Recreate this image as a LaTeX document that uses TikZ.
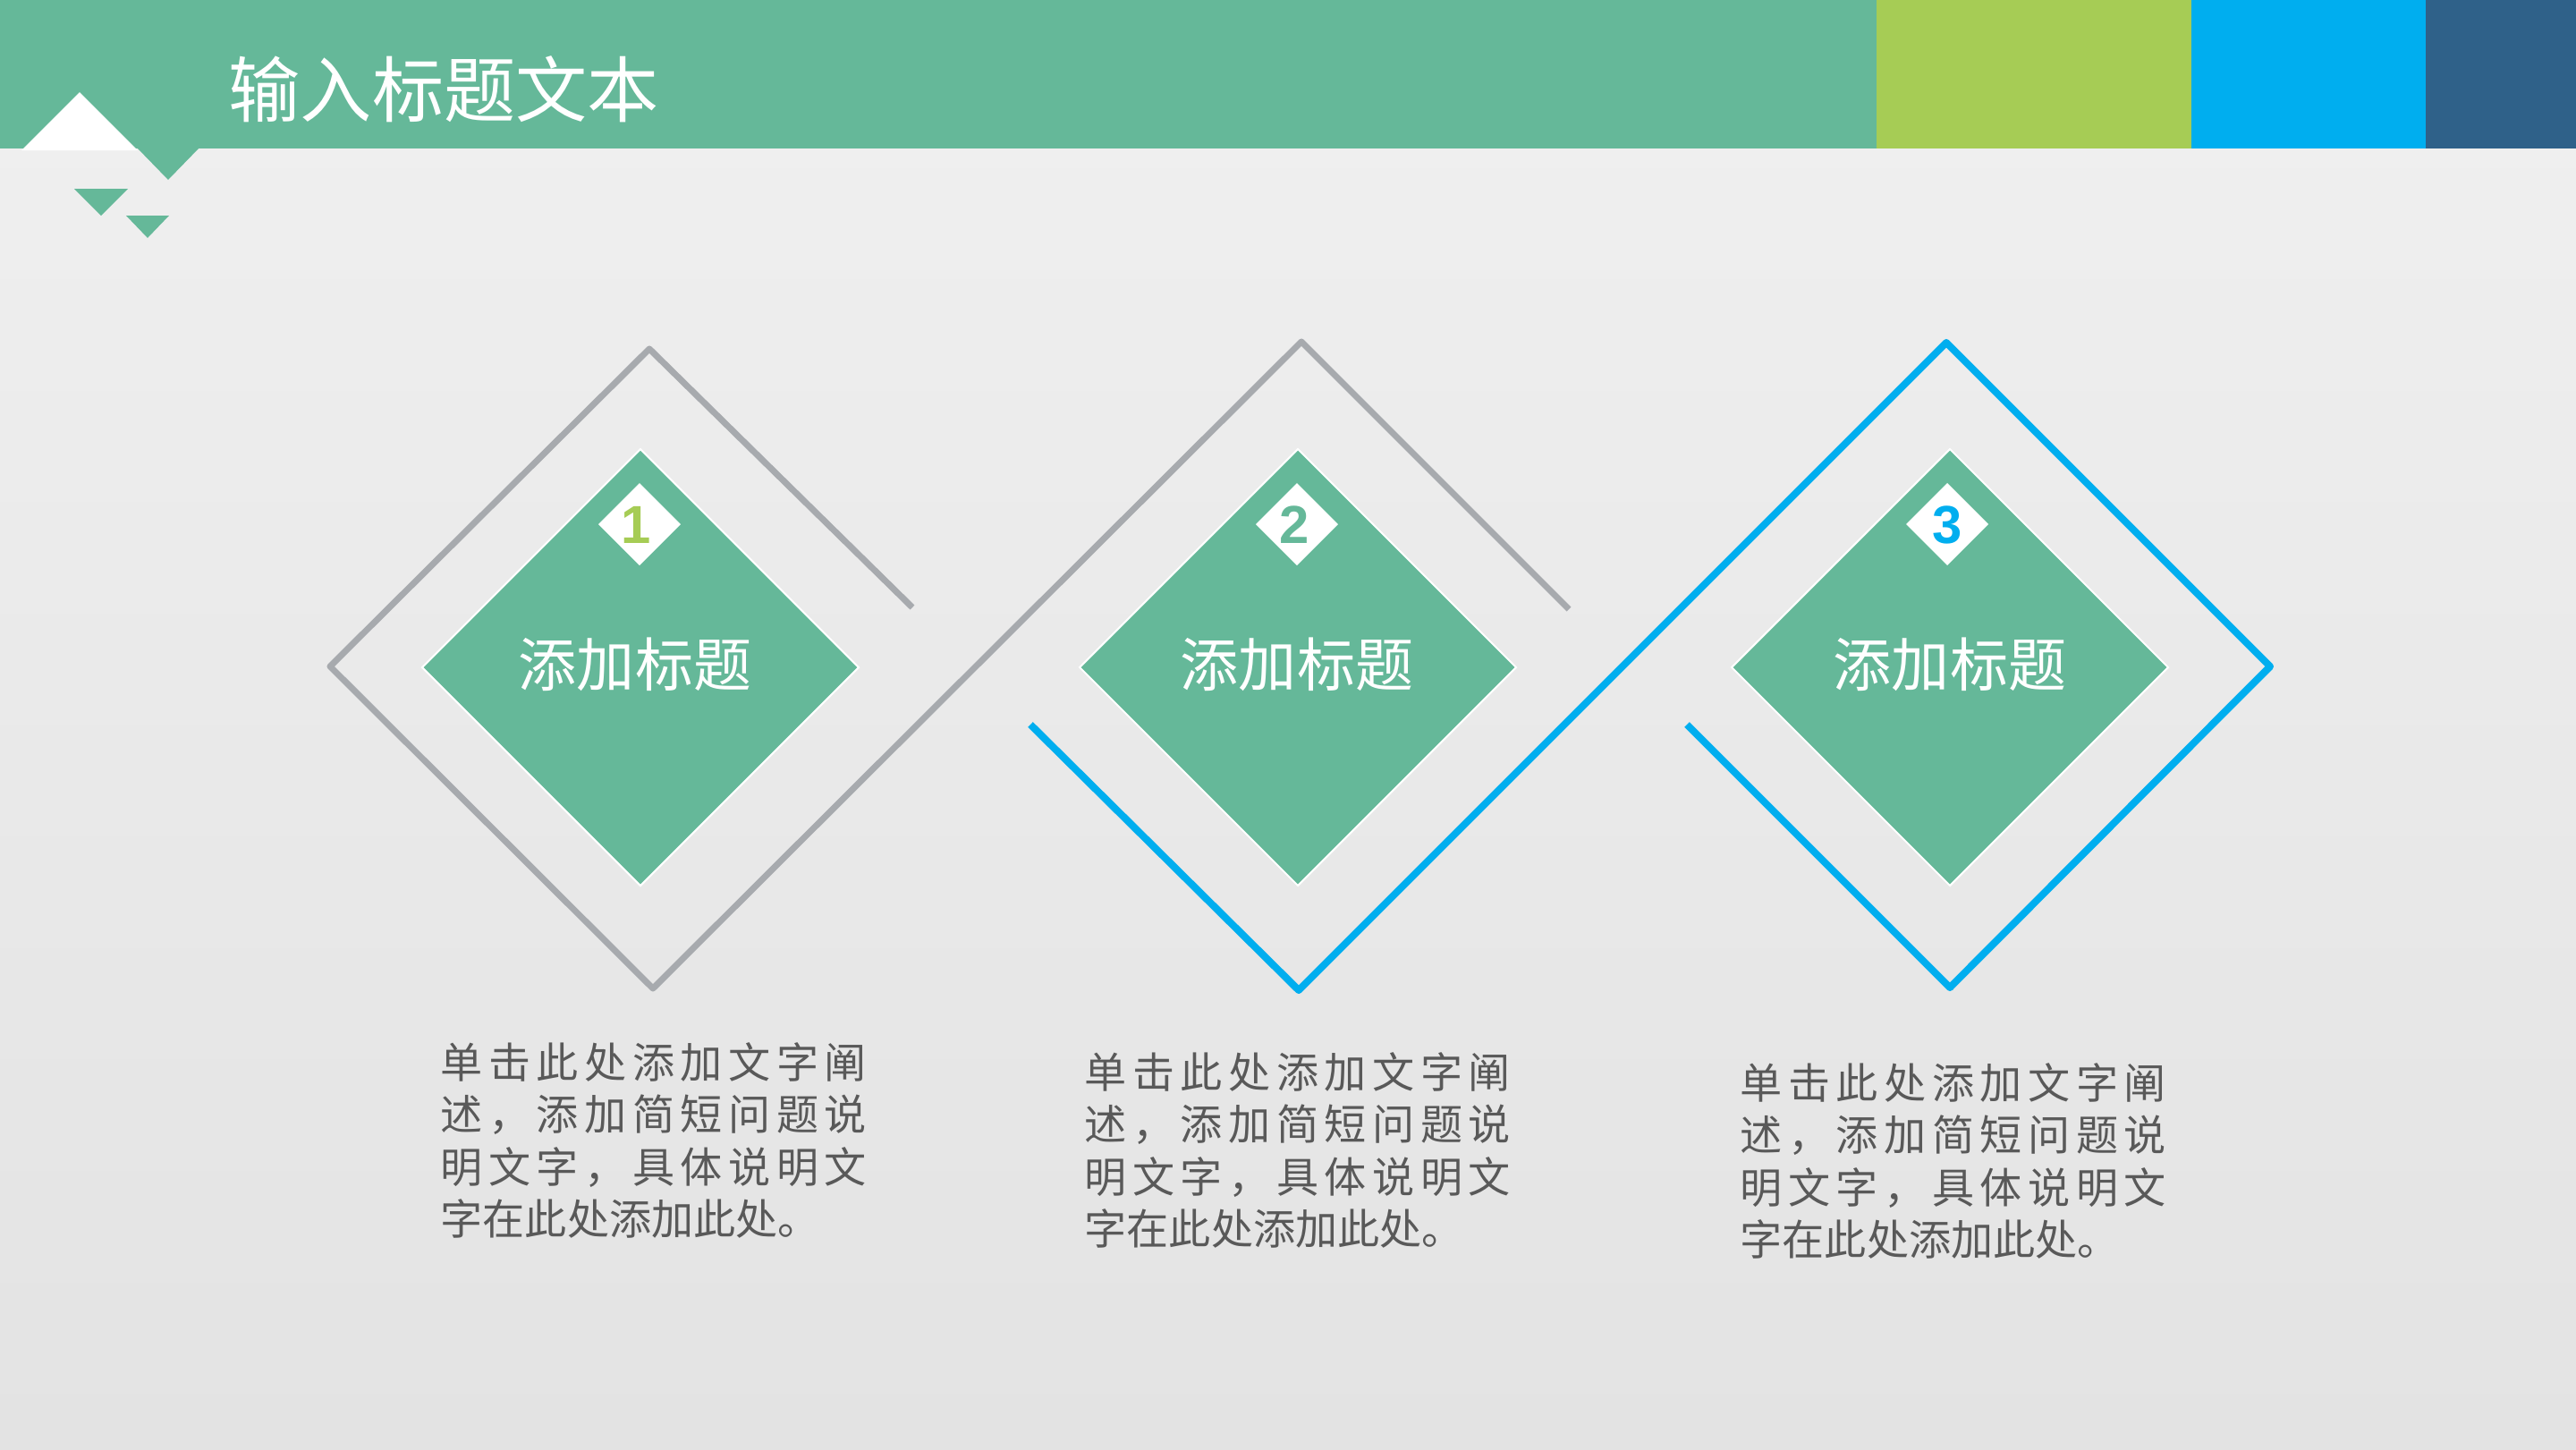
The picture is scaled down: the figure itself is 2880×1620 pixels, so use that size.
\documentclass[tikz,border=0pt]{standalone}
\usepackage{fontspec}
\newfontfamily\cjk{Noto Sans CJK SC}
\newfontfamily\numfont{Liberation Sans}
\definecolor{hdrgreen}{HTML}{65B899}
\definecolor{limegreen}{HTML}{A6CC55}
\definecolor{skyblue}{HTML}{00AEEF}
\definecolor{darkblue}{HTML}{2F6189}
\definecolor{linegray}{HTML}{A7AAAE}
\definecolor{bodygray}{HTML}{595959}
\definecolor{bgtop}{HTML}{F0F0F0}
\definecolor{bgbot}{HTML}{E3E3E3}
\tikzset{
  grayline/.style={draw=linegray, line width=2pt, line join=round},
  blueline/.style={draw=skyblue, line width=2.3pt, line join=round},
  bigdiamond/.style={fill=hdrgreen, draw=white, line width=0.6pt},
  smalldiamond/.style={fill=white},
  headtitle/.style={text=white, inner sep=0, font=\cjk\fontsize{22.8}{27}\selectfont},
  boxtitle/.style={text=white, inner sep=0, font=\cjk\fontsize{18.5}{22}\selectfont},
  numlabel/.style={inner sep=0, font=\numfont\bfseries\fontsize{17}{20}\selectfont},
  bodytext/.style={text=bodygray, inner sep=0, anchor=base west, font=\cjk\fontsize{13.4}{16.64}\selectfont}
}
\newcommand\spreadline[1]{\makebox[4.76cm][s]{#1}}
\begin{document}
\begin{tikzpicture}[x=0.01cm, y=-0.01cm]
\useasboundingbox (0,0) rectangle (2880,1620);
% background
\shade[top color=bgtop, bottom color=bgbot] (0,0) rectangle (2880,1620);
% header band
\fill[hdrgreen] (0,0) rectangle (2098,166);
\fill[limegreen] (2098,0) rectangle (2450,166);
\fill[skyblue] (2450,0) rectangle (2712,166);
\fill[darkblue] (2712,0) rectangle (2880,166);
% decorative triangles
\fill[white] (24,168) -- (89,103) -- (154,168) -- cycle;
\fill[hdrgreen] (153,165) -- (188,201) -- (223,165) -- cycle;
\fill[hdrgreen] (83,211) -- (143,211) -- (113,241) -- cycle;
\fill[hdrgreen] (141,241) -- (189,241) -- (165,266) -- cycle;
\node[headtitle, anchor=base west] (title) at (255,130) {输入标题文本};
% outline zigzags
\coordinate (g1) at (1020,679);
\coordinate (g2) at (726,390);
\coordinate (g3) at (369,745);
\coordinate (g4) at (730,1105);
\coordinate (g5) at (1455,382);
\coordinate (g6) at (1754,681);
\draw[grayline] (g1) -- (g2) -- (g3) -- (g4) -- (g5) -- (g6);
\coordinate (b1) at (1152,810);
\coordinate (b2) at (1452,1107);
\coordinate (b3) at (2176,383);
\coordinate (b4) at (2538,745);
\coordinate (b5) at (2180,1104);
\coordinate (b6) at (1886,810);
\draw[blueline] (b1) -- (b2) -- (b3) -- (b4) -- (b5) -- (b6);
% green diamonds
\foreach \cx in {716,1451,2180}{
  \path[bigdiamond] (\cx,502) -- (\cx+244,746) -- (\cx,990) -- (\cx-244,746) -- cycle;
}
% small white diamonds
\foreach \cx in {715,1450,2177}{
  \fill[smalldiamond] (\cx,540) -- (\cx+46,586) -- (\cx,632) -- (\cx-46,586) -- cycle;
}
\node[numlabel, text=limegreen, anchor=base] (n1) at (711,607) {1};
\node[numlabel, text=hdrgreen, anchor=base] (n2) at (1447,607) {2};
\node[numlabel, text=skyblue, anchor=base] (n3) at (2177,607) {3};
% titles in diamonds
\node[boxtitle, anchor=base] (h1) at (710,767) {添加标题};
\node[boxtitle, anchor=base] (h2) at (1450,767) {添加标题};
\node[boxtitle, anchor=base] (h3) at (2180,767) {添加标题};
% body texts
\foreach \bx/\by/\nm in {492/1205/t1, 1212/1216/t2, 1945/1228/t3}{
  \node[bodytext] (\nm) at (\bx,\by) {\parbox[t]{5cm}{%
    \spreadline{单\hfill 击\hfill 此\hfill 处\hfill 添\hfill 加\hfill 文\hfill 字\hfill 阐}\\
    \spreadline{述\hfill ，\hfill 添\hfill 加\hfill 简\hfill 短\hfill 问\hfill 题\hfill 说}\\
    \spreadline{明\hfill 文\hfill 字\hfill ，\hfill 具\hfill 体\hfill 说\hfill 明\hfill 文}\\
    字在此处添加此处。}};
}
\end{tikzpicture}
\end{document}
